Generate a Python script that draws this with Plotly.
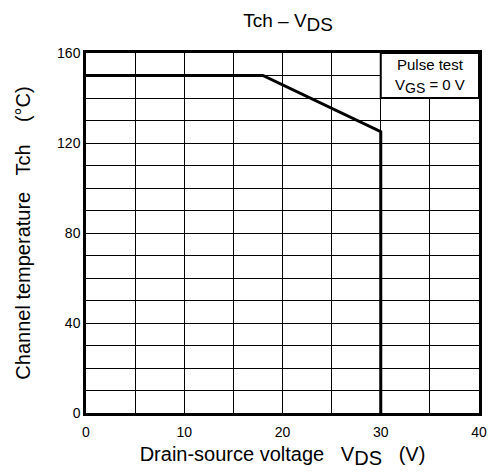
import plotly.graph_objects as go

# Channel temperature limit vs drain-source voltage
vds = [0, 18, 30, 30]
tch = [150, 150, 125, 0]

x_ticks = [0, 10, 20, 30, 40]
y_ticks = [0, 40, 80, 120, 160]

font = "Liberation Sans, Arial, sans-serif"


def sub(txt, size):
    # lowered subscript kept close to full size
    return f"<sub><span style='font-size:{size}px'>{txt}</span></sub>"


fig = go.Figure()
fig.add_trace(go.Scatter(x=vds, y=tch, mode="lines",
                         line=dict(color="black", width=3),
                         showlegend=False, hoverinfo="skip"))

# Condition box in the upper-right cell block
fig.add_shape(type="rect", x0=30, x1=40, y0=140, y1=160, xref="x", yref="y",
              fillcolor="white", line=dict(color="black", width=2), layer="above")
fig.add_annotation(x=35, y=150, xref="x", yref="y",
                   text="Pulse test<br>V" + sub("GS", 14) + " = 0 V", showarrow=False,
                   font=dict(family=font, size=15, color="black"), align="center")

fig.update_layout(
    width=495, height=474,
    margin=dict(l=86, r=8, t=53, b=61),
    paper_bgcolor="white", plot_bgcolor="white",
    font=dict(family=font, size=14, color="black"),
    title=dict(text="Tch – V" + sub("DS", 19), x=0.582, xanchor="center", y=0.958, yanchor="middle",
               font=dict(family=font, size=19, color="black")),
)
fig.update_xaxes(
    range=[0, 40], tickvals=x_ticks, ticktext=[str(v) for v in x_ticks],
    showgrid=True, gridcolor="black", gridwidth=1,
    minor=dict(dtick=5, showgrid=True, gridcolor="black", gridwidth=1),
    showline=True, linecolor="black", linewidth=2.5, mirror=True,
    ticks="", zeroline=False, tickfont=dict(size=14), ticklabelstandoff=4,
    title=dict(text="Drain-source voltage   V" + sub("DS", 20) + "   (V)",
               font=dict(size=20), standoff=9),
)
fig.update_yaxes(
    range=[0, 160], tickvals=y_ticks, ticktext=[str(v) for v in y_ticks],
    showgrid=True, gridcolor="black", gridwidth=1,
    minor=dict(dtick=10, showgrid=True, gridcolor="black", gridwidth=1),
    showline=True, linecolor="black", linewidth=2.5, mirror=True,
    ticks="", zeroline=False, tickfont=dict(size=14),
    title=dict(text="Channel temperature   Tch    (°C)", font=dict(size=20), standoff=22),
)

fig.write_html("out.html")
